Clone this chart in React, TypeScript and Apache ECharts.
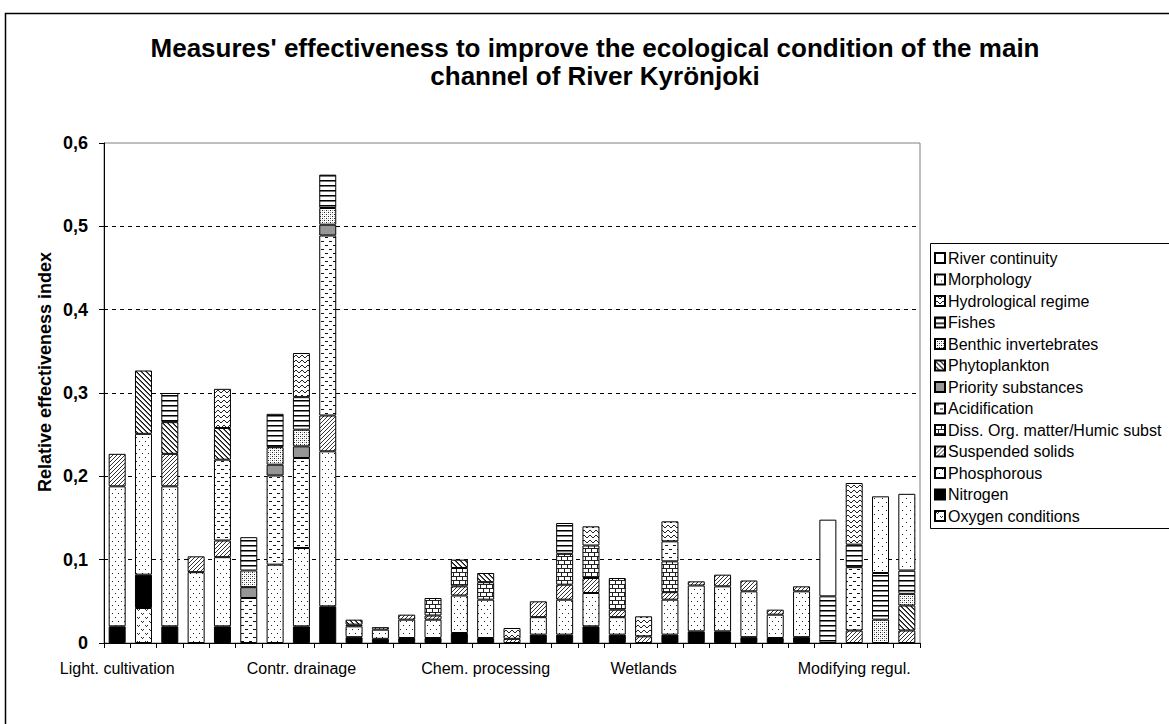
import React, { useEffect, useRef } from 'react';
import * as echarts from 'echarts';

const FONT = '"Liberation Sans", Arial, Helvetica, sans-serif';

// Category (measure) labels shown under the bars
const categories = [
  'Light. cultivation', '', '', '', '', '', '',
  'Contr. drainage', '', '', '', '', '', '',
  'Chem. processing', '', '', '', '', '',
  'Wetlands', '', '', '', '', '', '', '',
  'Modifying regul.', '', '',
];

const yTicks = [0, 0.1, 0.2, 0.3, 0.4, 0.5, 0.6];

// Series values, 31 measures each (stack order bottom -> top)
const oxygen = [0, 0.042, 0, 0, 0, 0, 0, 0, 0, 0, 0, 0, 0, 0, 0, 0, 0, 0, 0, 0, 0, 0, 0, 0, 0, 0, 0, 0, 0, 0, 0];
const nitrogen = [0.02, 0.04, 0.02, 0, 0.02, 0, 0, 0.02, 0.044, 0.007, 0.005, 0.006, 0.006, 0.012, 0.006, 0, 0.01, 0.01, 0.02, 0.01, 0, 0.01, 0.014, 0.014, 0.007, 0.006, 0.007, 0, 0, 0, 0];
const phosphorous = [0.168, 0.169, 0.168, 0.085, 0.083, 0, 0.094, 0.094, 0.186, 0.013, 0.011, 0.022, 0.022, 0.045, 0.046, 0, 0.021, 0.042, 0.04, 0.021, 0, 0.042, 0.055, 0.054, 0.055, 0.028, 0.055, 0, 0, 0, 0];
const suspendedSolids = [0.039, 0, 0.039, 0.019, 0.02, 0, 0, 0, 0.043, 0.002, 0.003, 0.006, 0.005, 0.011, 0, 0.005, 0.019, 0.018, 0.018, 0.009, 0.008, 0.009, 0.005, 0.014, 0.013, 0.006, 0.006, 0, 0.015, 0, 0.015];
const dissOrgMatter = [0, 0, 0, 0, 0, 0, 0, 0, 0, 0, 0, 0, 0.021, 0.022, 0.021, 0, 0, 0.037, 0.039, 0.038, 0, 0.037, 0, 0, 0, 0, 0, 0, 0, 0, 0];
const acidification = [0, 0, 0, 0, 0.097, 0.054, 0.107, 0.108, 0.216, 0, 0, 0, 0, 0, 0, 0, 0, 0, 0, 0, 0, 0.024, 0, 0, 0, 0, 0, 0, 0.076, 0, 0];
const prioritySubstances = [0, 0, 0, 0, 0, 0.013, 0.013, 0.014, 0.013, 0, 0, 0, 0, 0, 0, 0, 0, 0, 0, 0, 0, 0, 0, 0, 0, 0, 0, 0, 0, 0, 0];
const phytoplankton = [0, 0.076, 0.038, 0, 0.038, 0, 0, 0, 0, 0.006, 0, 0, 0, 0.01, 0.011, 0, 0, 0, 0, 0, 0, 0, 0, 0, 0, 0, 0, 0, 0, 0, 0.03];
const benthicInvertebrates = [0, 0, 0, 0, 0, 0.02, 0.021, 0.02, 0.02, 0, 0, 0, 0, 0, 0, 0, 0, 0, 0, 0, 0, 0, 0, 0, 0, 0, 0, 0, 0, 0.028, 0.014];
const fishes = [0, 0, 0.035, 0, 0, 0.04, 0.04, 0.039, 0.04, 0, 0, 0, 0, 0, 0, 0, 0, 0.037, 0, 0, 0, 0, 0, 0, 0, 0, 0, 0.056, 0.027, 0.056, 0.028];
const hydrologicalRegime = [0, 0, 0, 0, 0.047, 0, 0, 0.053, 0, 0, 0, 0, 0, 0, 0, 0.013, 0, 0, 0.023, 0, 0.024, 0.024, 0, 0, 0, 0, 0, 0, 0.074, 0, 0];
const morphology = [0, 0, 0, 0, 0, 0, 0, 0, 0, 0, 0, 0, 0, 0, 0, 0, 0, 0, 0, 0, 0, 0, 0, 0, 0, 0, 0, 0, 0, 0.092, 0.092];
const riverContinuity = [0, 0, 0, 0, 0, 0, 0, 0, 0, 0, 0, 0, 0, 0, 0, 0, 0, 0, 0, 0, 0, 0, 0, 0, 0, 0, 0, 0.092, 0, 0, 0];

const seriesList: [string, number[], string][] = [
  ['Oxygen conditions', oxygen, 'oxygen'],
  ['Nitrogen', nitrogen, 'black'],
  ['Phosphorous', phosphorous, 'dots'],
  ['Suspended solids', suspendedSolids, 'fdiag'],
  ['Diss. Org. matter/Humic subst', dissOrgMatter, 'brick'],
  ['Acidification', acidification, 'dash'],
  ['Priority substances', prioritySubstances, 'grey'],
  ['Phytoplankton', phytoplankton, 'bdiag'],
  ['Benthic invertebrates', benthicInvertebrates, 'fine'],
  ['Fishes', fishes, 'hlines'],
  ['Hydrological regime', hydrologicalRegime, 'wave'],
  ['Morphology', morphology, 'sparse'],
  ['River continuity', riverContinuity, 'white'],
];

function makeTile(w: number, h: number, pts: [number, number, string?][]) {
  const c = document.createElement('canvas');
  c.width = w;
  c.height = h;
  const ctx = c.getContext('2d')!;
  ctx.fillStyle = '#fff';
  ctx.fillRect(0, 0, w, h);
  for (const p of pts) {
    ctx.fillStyle = p[2] || '#000';
    ctx.fillRect(p[0], p[1], 1, 1);
  }
  return { image: c, repeat: 'repeat', imageWidth: w, imageHeight: h } as any;
}

function buildPattern(kind: string): any {
  switch (kind) {
    case 'black': return '#000000';
    case 'grey': return '#969696';
    case 'white': return '#ffffff';
    case 'oxygen':
      return makeTile(8, 8, [[1, 1, '#333'], [2, 2, '#333'], [3, 1, '#333'], [5, 5, '#333'], [6, 6, '#333'], [7, 5, '#333']]);
    case 'dots':
      return makeTile(6, 8, [[1, 1, '#222'], [4, 5, '#222']]);
    case 'sparse':
      return makeTile(8, 8, [[2, 2, '#222'], [6, 6, '#222']]);
    case 'fdiag': {
      const p: [number, number, string][] = [];
      for (let x = 0; x < 4; x++) p.push([x, 3 - x, '#333']);
      return makeTile(4, 4, p);
    }
    case 'bdiag': {
      const p: [number, number, string][] = [];
      for (let x = 0; x < 5; x++) { p.push([x, x, '#111']); p.push([x, (x + 1) % 5, '#666']); }
      return makeTile(5, 5, p);
    }
    case 'brick': {
      const p: [number, number, string][] = [];
      for (let x = 0; x < 6; x++) { p.push([x, 0, '#222']); p.push([x, 4, '#222']); }
      for (let y = 1; y < 4; y++) p.push([0, y, '#222']);
      for (let y = 5; y < 8; y++) p.push([3, y, '#222']);
      return makeTile(6, 8, p);
    }
    case 'dash':
      return makeTile(8, 8, [[1, 1, '#111'], [2, 1, '#111'], [3, 1, '#111'], [5, 5, '#111'], [6, 5, '#111'], [7, 5, '#111']]);
    case 'fine':
      return makeTile(4, 4, [[0, 0, '#222'], [2, 2, '#222'], [2, 0, '#aaa'], [0, 2, '#aaa']]);
    case 'hlines':
      return makeTile(1, 5, [[0, 0, '#000'], [0, 1, '#777']]);
    case 'wave': {
      const ys = [1, 0, 0, 1, 2, 2];
      const p: [number, number, string][] = ys.map((y, x) => [x, y, '#222'] as [number, number, string]);
      return makeTile(6, 5, p);
    }
    default: return '#fff';
  }
}

export default function App() {
  const ref = useRef<HTMLDivElement>(null);
  useEffect(() => {
    if (!ref.current) return;
    const chart = echarts.init(ref.current, null, { renderer: 'svg' });
    const series = seriesList.map(([name, values, kind]) => ({
      name,
      type: 'bar',
      stack: 'total',
      barWidth: 17,
      data: values.map((v) => (v === 0 ? '-' : v)),
      itemStyle: { color: buildPattern(kind), borderColor: '#000', borderWidth: 1 },
      emphasis: { disabled: true },
    }));
    chart.setOption({
      animation: false,
      backgroundColor: '#fff',
      title: {
        text: "Measures' effectiveness to improve the ecological condition of the main\nchannel of River Kyrönjoki",
        left: 590,
        top: 29,
        textAlign: 'center',
        textStyle: { fontFamily: FONT, fontWeight: 'bold', fontSize: 26, lineHeight: 28, color: '#000' },
      },
      grid: { left: 104, top: 143, width: 816, height: 500, show: true, borderColor: '#808080', borderWidth: 1 },
      legend: {
        orient: 'vertical',
        left: 930,
        top: 243,
        padding: [7, 8, 7, 4],
        itemWidth: 10,
        itemHeight: 10,
        itemGap: 5.5,
        icon: 'rect',
        selectedMode: false,
        textStyle: { fontFamily: FONT, fontSize: 16, color: '#000', padding: [0, 0, 0, -2] },
        data: seriesList.map((s) => s[0]).reverse(),
      },
      xAxis: {
        type: 'category',
        data: categories,
        axisLine: { lineStyle: { color: '#000', width: 1 } },
        axisTick: { show: true, interval: 0, length: 5, lineStyle: { color: '#000' } },
        axisLabel: { interval: 0, margin: 17, fontFamily: FONT, fontSize: 16, color: '#000' },
        splitLine: { show: false },
      },
      yAxis: {
        type: 'value',
        min: yTicks[0],
        max: yTicks[yTicks.length - 1],
        interval: 0.1,
        axisLine: { show: true, lineStyle: { color: '#000', width: 1 } },
        axisTick: { show: true, length: 5, lineStyle: { color: '#000' } },
        axisLabel: {
          margin: 16,
          fontFamily: FONT,
          fontSize: 18,
          fontWeight: 'bold',
          color: '#000',
          formatter: (v: number) => (v === 0 ? '0' : v.toFixed(1).replace('.', ',')),
        },
        splitLine: { show: true, showMaxLine: false, showMinLine: false, lineStyle: { color: '#000', type: [4, 4], width: 1 } },
      },
      graphic: [
        {
          type: 'rect',
          silent: true,
          shape: { x: 5.5, y: 13.5, width: 1300, height: 900 },
          style: { fill: 'none', stroke: '#000', lineWidth: 1.5 },
          z: -1,
        },
        {
          type: 'rect',
          silent: true,
          shape: { x: 930.5, y: 243.5, width: 400, height: 285 },
          style: { fill: '#fff', stroke: '#000', lineWidth: 1 },
          z: -1,
        },
        {
          type: 'text',
          silent: true,
          x: 45,
          y: 372,
          rotation: Math.PI / 2,
          style: {
            text: 'Relative effectiveness index',
            fontFamily: FONT,
            fontSize: 18,
            fontWeight: 'bold',
            fill: '#000',
            align: 'center',
            verticalAlign: 'middle',
          },
        },
      ],
      series,
    });
    return () => chart.dispose();
  }, []);
  return <div ref={ref} style={{ position: 'fixed', left: 0, top: 0, width: 1169, height: 724 }} />;
}
